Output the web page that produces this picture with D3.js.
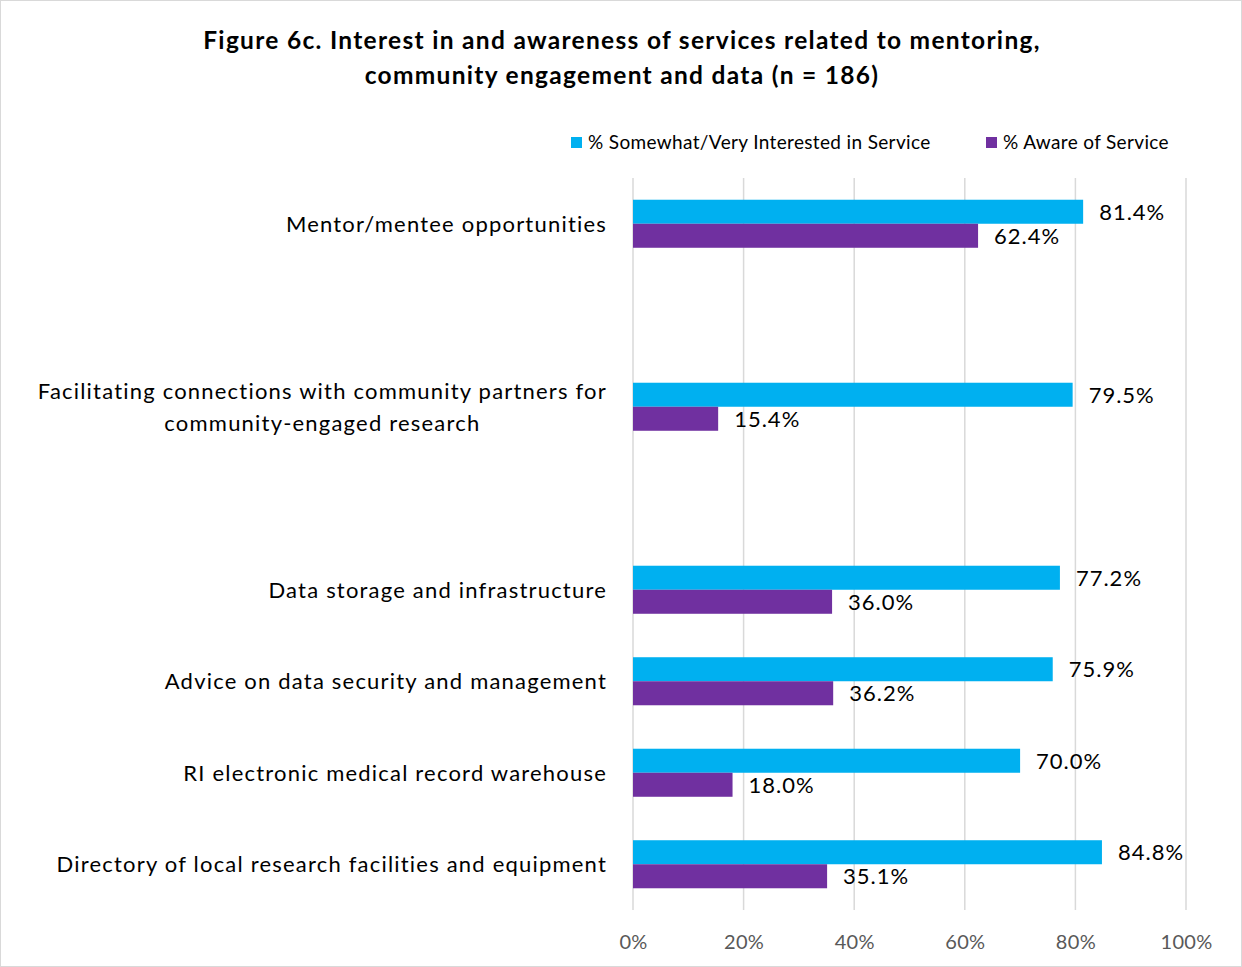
<!DOCTYPE html>
<html>
<head>
<meta charset="utf-8">
<script src="https://cdn.jsdelivr.net/npm/d3@7"></script>
<style>
  html, body { margin: 0; padding: 0; background: #fff; }
  svg { display: block; font-family: Lato, "Open Sans", sans-serif; }
</style>
</head>
<body>
<svg id="chart" width="1242" height="967"></svg>
<script>
// Categories, top to bottom; empty slots keep the wider gaps between the first groups
const categories = [
  "Mentor/mentee opportunities",
  "",
  "Facilitating connections with community partners for\ncommunity-engaged research",
  " ",
  "Data storage and infrastructure",
  "Advice on data security and management",
  "RI electronic medical record warehouse",
  "Directory of local research facilities and equipment"
];
const interested = [81.4, null, 79.5, null, 77.2, 75.9, 70.0, 84.8];
const aware      = [62.4, null, 15.4, null, 36.0, 36.2, 18.0, 35.1];
const seriesNames = ["% Somewhat/Very Interested in Service", "% Aware of Service"];
const seriesColors = ["#00B0F0", "#7030A0"];
const xTicks = [0, 20, 40, 60, 80, 100];
const titleLines = [
  "Figure 6c. Interest in and awareness of services related to mentoring,",
  "community engagement and data (n = 186)"
];

const svg = d3.select("#chart");
const W = 1242, H = 967;
const plot = { left: 633, right: 1186, top: 178, bottom: 910 };

// chart frame
svg.append("rect").attr("x", 0.5).attr("y", 0.5).attr("width", W - 1).attr("height", H - 1)
  .attr("fill", "#fff").attr("stroke", "#d9d9d9");

// title
svg.append("g").selectAll("text").data(titleLines).join("text")
  .attr("x", 622).attr("y", (d, i) => 49 + i * 35)
  .attr("text-anchor", "middle")
  .attr("font-size", 24.5).attr("font-weight", "bold").attr("fill", "#000")
  .attr("letter-spacing", 1.3)
  .text(d => d);

const x = d3.scaleLinear().domain([0, 100]).range([plot.left, plot.right]);
const y = d3.scaleBand().domain(categories).range([plot.top, plot.bottom]).paddingInner(0.475).paddingOuter(0.2375);
const ySub = d3.scaleBand().domain([0, 1]).range([0, y.bandwidth()]);

// gridlines
svg.append("g").selectAll("line").data(xTicks).join("line")
  .attr("x1", d => x(d)).attr("x2", d => x(d))
  .attr("y1", plot.top).attr("y2", plot.bottom)
  .attr("stroke", "#d9d9d9").attr("stroke-width", 1.5);

// x axis tick labels
const xAxis = d3.axisBottom(x).tickValues(xTicks).tickFormat(d => d + "%").tickSize(0).tickPadding(0);
const gx = svg.append("g").attr("transform", `translate(0,${plot.bottom + 25})`).call(xAxis);
gx.select(".domain").remove();
gx.selectAll("text").attr("font-size", 20).attr("fill", "#595959")
  .attr("letter-spacing", 0.3)
  .attr("font-family", "Lato, 'Open Sans', sans-serif");

// bars
const rows = categories.map((c, i) => ({ c, vals: [interested[i], aware[i]] }))
  .filter(r => r.vals[0] !== null);

const groups = svg.append("g").selectAll("g").data(rows).join("g")
  .attr("transform", d => `translate(0,${y(d.c)})`);

groups.selectAll("rect").data(d => d.vals.map((v, k) => ({ v, k }))).join("rect")
  .attr("x", x(0))
  .attr("y", d => ySub(d.k))
  .attr("width", d => x(d.v) - x(0))
  .attr("height", ySub.bandwidth())
  .attr("fill", d => seriesColors[d.k]);

groups.selectAll("text.val").data(d => d.vals.map((v, k) => ({ v, k }))).join("text")
  .attr("class", "val")
  .attr("x", d => x(d.v) + 16)
  .attr("y", d => ySub(d.k) + ySub.bandwidth() / 2)
  .attr("dy", "0.36em")
  .attr("font-size", 22).attr("fill", "#000")
  .attr("letter-spacing", 1)
  .text(d => d.v.toFixed(1) + "%");

// category labels
const catG = svg.append("g").selectAll("text").data(rows).join("text")
  .attr("text-anchor", "end")
  .attr("font-size", 22).attr("fill", "#000")
  .attr("letter-spacing", 1.2)
  .attr("transform", d => `translate(607,${y(d.c) + y.bandwidth() / 2})`);
catG.each(function(d) {
  const lines = d.c.split("\n");
  const t = d3.select(this);
  if (lines.length === 1) {
    t.append("tspan").attr("x", 0).attr("dy", "0.36em").text(lines[0]);
  } else {
    // second line centred under the first
    const first = t.append("tspan").attr("x", 0).attr("y", -16).attr("dy", "0.36em").text(lines[0]);
    const w = first.node().getComputedTextLength();
    t.append("tspan").attr("x", -w / 2).attr("y", 16).attr("dy", "0.36em")
      .attr("text-anchor", "middle").text(lines[1]);
  }
});

// legend
const legend = svg.append("g").selectAll("g").data(seriesNames).join("g")
  .attr("transform", (d, i) => `translate(${[571, 986][i]},137)`);
legend.append("rect").attr("width", 11).attr("height", 11).attr("fill", (d, i) => seriesColors[i]);
legend.append("text").attr("x", 17).attr("y", 5.5).attr("dy", "0.36em")
  .attr("font-size", 19).attr("fill", "#000").attr("letter-spacing", 0.35).text(d => d);
</script>
</body>
</html>
